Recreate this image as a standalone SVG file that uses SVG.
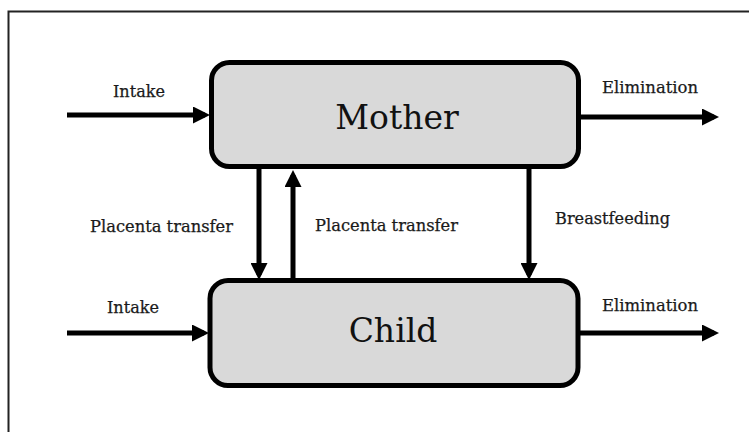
<svg xmlns="http://www.w3.org/2000/svg" width="749" height="432" viewBox="0 0 749 432">
<defs>
<marker id="ah" viewBox="0 0 17 17" refX="12" refY="8.5" markerWidth="17" markerHeight="17" markerUnits="userSpaceOnUse" orient="auto">
<path d="M0,0 L17,8.5 L0,17 Z" fill="#000"/>
</marker>
<style>
.box{fill:#d9d9d9;stroke:#000;stroke-width:5}
.big{font-family:"DejaVu Serif","Liberation Serif",serif;font-size:33px;fill:#111;text-anchor:middle}
.lbl{font-family:"DejaVu Serif","Liberation Serif",serif;font-size:16.5px;fill:#1a1a1a;stroke:#1a1a1a;stroke-width:0.25}
.ln{stroke:#000;stroke-width:5;fill:none}
</style>
</defs>
<rect x="0" y="0" width="749" height="432" fill="#fff"/>
<path d="M8.5,432 L8.5,11.5 L749,11.5" fill="none" stroke="#222" stroke-width="2"/>
<g id="mother">
<rect class="box" x="211.5" y="62.5" width="367" height="104" rx="18"/>
<text class="big" x="397" y="129">Mother</text>
</g>
<g id="child">
<rect class="box" x="210" y="280.5" width="368" height="105" rx="18"/>
<text class="big" x="393" y="342">Child</text>
</g>
<g id="connectors">
<line class="ln" x1="67" y1="115" x2="205" y2="115" marker-end="url(#ah)"/>
<line class="ln" x1="581" y1="117" x2="714" y2="117" marker-end="url(#ah)"/>
<line class="ln" x1="67" y1="333" x2="204" y2="333" marker-end="url(#ah)"/>
<line class="ln" x1="580" y1="333" x2="714" y2="333" marker-end="url(#ah)"/>
<line class="ln" x1="259" y1="169" x2="259" y2="275" marker-end="url(#ah)"/>
<line class="ln" x1="293" y1="278" x2="293" y2="175" marker-end="url(#ah)"/>
<line class="ln" x1="529" y1="169" x2="529" y2="275" marker-end="url(#ah)"/>
</g>
<g id="labels">
<text class="lbl" x="113" y="97" textLength="52" lengthAdjust="spacingAndGlyphs">Intake</text>
<text class="lbl" x="602" y="93" textLength="96" lengthAdjust="spacingAndGlyphs">Elimination</text>
<text class="lbl" x="107" y="313" textLength="52" lengthAdjust="spacingAndGlyphs">Intake</text>
<text class="lbl" x="602" y="311" textLength="96" lengthAdjust="spacingAndGlyphs">Elimination</text>
<text class="lbl" x="90" y="232" textLength="143" lengthAdjust="spacingAndGlyphs">Placenta transfer</text>
<text class="lbl" x="315" y="231" textLength="143" lengthAdjust="spacingAndGlyphs">Placenta transfer</text>
<text class="lbl" x="555" y="224" textLength="115" lengthAdjust="spacingAndGlyphs">Breastfeeding</text>
</g>
</svg>
